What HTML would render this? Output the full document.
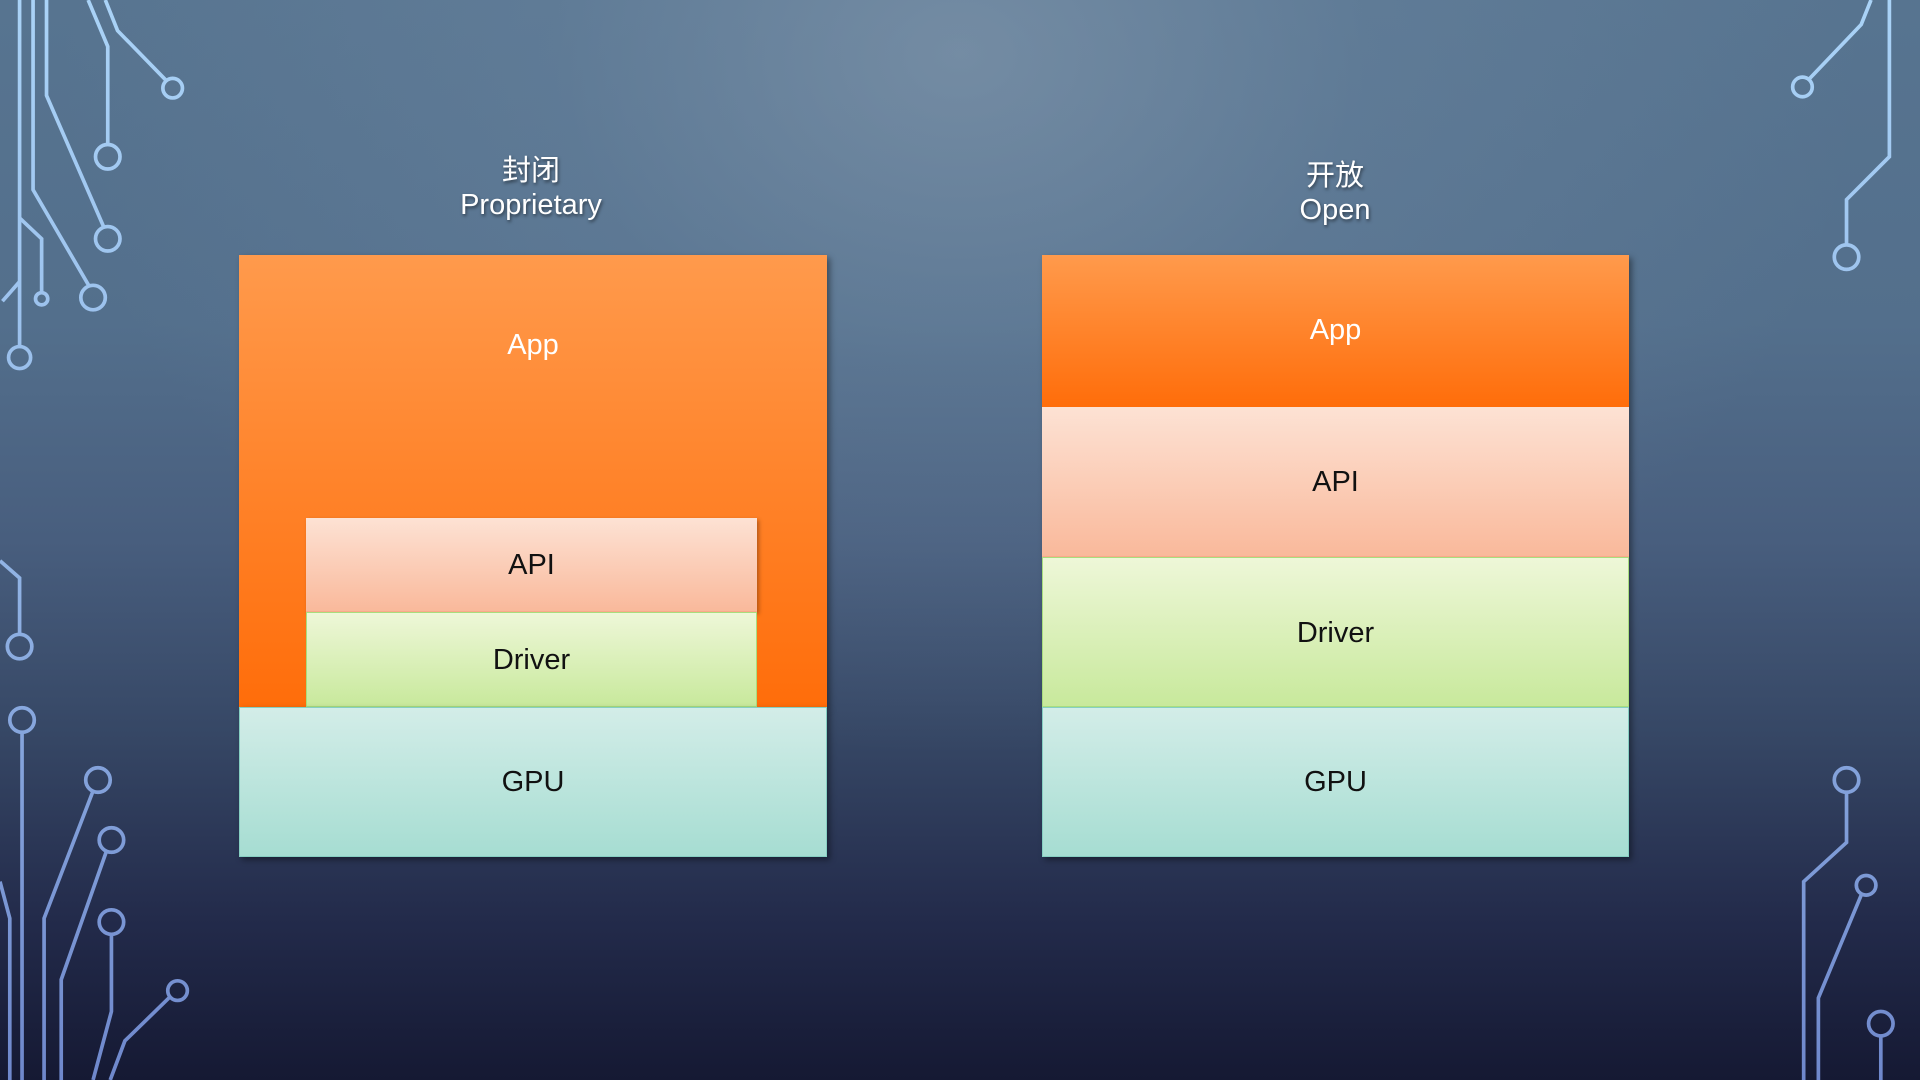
<!DOCTYPE html>
<html><head><meta charset="utf-8"><style>
html,body{margin:0;padding:0}
body{width:1920px;height:1080px;position:relative;overflow:hidden;
background:radial-gradient(ellipse 900px 700px at 50% 5%,rgba(140,160,180,.55) 0%,rgba(120,145,170,.25) 45%,rgba(0,0,0,0) 100%),
linear-gradient(#577490 0%,#536f8c 30%,#485e7e 50%,#364765 68%,#232b4b 85%,#151933 100%);
font-family:"Liberation Sans","Noto Sans CJK SC",sans-serif}
.b{position:absolute;box-sizing:border-box}
.t{position:absolute;width:100%;text-align:center;font-size:29px;color:#111}
.w{color:#fff}
.title{position:absolute;text-align:center;color:#fff;font-size:29px;line-height:34px;text-shadow:1px 2px 3px rgba(0,0,0,.5);width:300px}
.app{background:linear-gradient(#ff9a4c,#ff6d0a);}
.api{background:linear-gradient(#fde2d4,#f9b99b);border-bottom:1px solid #f9a98a}
.drv{background:linear-gradient(#eef7d8,#c8e99c);border:1px solid #a9dd7e}
.gpu{background:linear-gradient(#d3ede8,#a6ddd2);border:1px solid #86cfc2}
.sh{box-shadow:3px 3px 6px rgba(0,0,0,.4)}
</style></head><body>
<svg width="1920" height="1080" viewBox="0 0 1568 882" style="position:absolute;left:0;top:0" fill="none" stroke-width="3">
<defs><linearGradient id="g" x1="0" y1="0" x2="0" y2="882" gradientUnits="userSpaceOnUse"><stop offset="0" stop-color="#aad3f7"/><stop offset="0.5" stop-color="#93b6e6"/><stop offset="1" stop-color="#6f88cc"/></linearGradient></defs>
<g stroke="url(#g)">
<path d="M16 0V283"/><circle cx="16" cy="292" r="9"/>
<path d="M27 0V155L73 234"/><circle cx="76" cy="243" r="10"/>
<path d="M38 0V78L85 186"/><circle cx="88" cy="195" r="10"/>
<path d="M72 0L88 38V118"/><circle cx="88" cy="128" r="10"/>
<path d="M86 0L96 25L135 65"/><circle cx="141" cy="72" r="8"/>
<path d="M16 178L34 195V239"/><circle cx="34" cy="244" r="5"/>
<path d="M2 246L16 230"/>
<path d="M0 458L16 472V518"/><circle cx="16" cy="528" r="10"/>
<circle cx="18" cy="588" r="10"/><path d="M18 598V882"/>
<circle cx="80" cy="637" r="10"/><path d="M76 646L36 750V882"/>
<circle cx="91" cy="686" r="10"/><path d="M87 695L50 800V882"/>
<circle cx="91" cy="753" r="10"/><path d="M91 763V826L76 882"/>
<circle cx="145" cy="809" r="8"/><path d="M139 814L102 850L90 882"/>
<path d="M0 720L8 750V882"/>
<path d="M1543 0V128L1508 163V200"/><circle cx="1508" cy="210" r="10"/>
<path d="M1528 0L1520 20L1478 64"/><circle cx="1472" cy="71" r="8"/>
<circle cx="1508" cy="637" r="10"/><path d="M1508 647V688L1473 720V882"/>
<circle cx="1524" cy="723" r="8"/><path d="M1520 731L1485 815V882"/>
<circle cx="1536" cy="836" r="10"/><path d="M1536 846V882"/>
</g></svg>

<div class="title" style="left:381px;top:154px">封闭<br>Proprietary</div>
<div class="title" style="left:1185px;top:159px">开放<br>Open</div>

<!-- left -->
<div class="b app sh" style="left:239px;top:255px;width:588px;height:452px"><div class="t w" style="top:74px">App</div></div>
<div class="b api" style="left:306px;top:518px;width:451px;height:94px;box-shadow:2px 2px 4px rgba(0,0,0,.3)"><div class="t" style="top:31px">API</div></div>
<div class="b drv" style="left:306px;top:612px;width:451px;height:95px"><div class="t" style="top:31px">Driver</div></div>
<div class="b gpu sh" style="left:239px;top:707px;width:588px;height:150px"><div class="t" style="top:58px">GPU</div></div>

<!-- right -->
<div class="b sh" style="left:1042px;top:255px;width:587px;height:602px"></div>
<div class="b app" style="left:1042px;top:255px;width:587px;height:152px"><div class="t w" style="top:59px">App</div></div>
<div class="b api" style="left:1042px;top:407px;width:587px;height:150px"><div class="t" style="top:59px">API</div></div>
<div class="b drv" style="left:1042px;top:557px;width:587px;height:150px"><div class="t" style="top:59px">Driver</div></div>
<div class="b gpu" style="left:1042px;top:707px;width:587px;height:150px"><div class="t" style="top:58px">GPU</div></div>
</body></html>
